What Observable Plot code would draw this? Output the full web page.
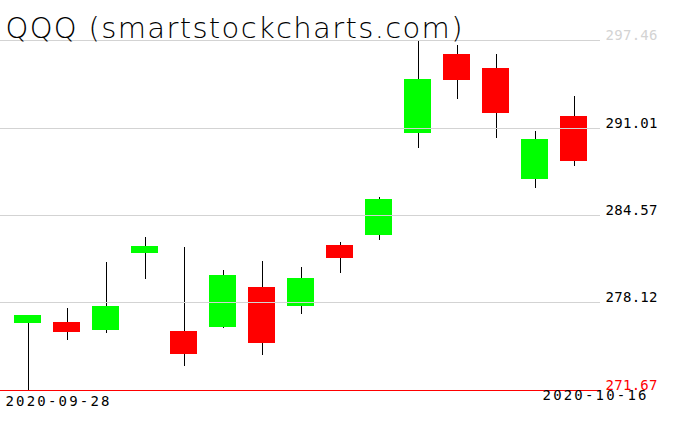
<!DOCTYPE html>
<html>
<head>
<meta charset="utf-8">
<script src="https://cdn.jsdelivr.net/npm/d3@7"></script>
<script src="https://cdn.jsdelivr.net/npm/@observablehq/plot@0.6"></script>
<style>
  html, body { margin: 0; padding: 0; background: #fff; }
  #chart svg { display: block; }
</style>
</head>
<body>
<div id="chart"></div>
<script>
const title = "QQQ (smartstockcharts.com)";
const dates = ["2020-09-28","2020-09-29","2020-09-30","2020-10-01","2020-10-02","2020-10-05","2020-10-06","2020-10-07","2020-10-08","2020-10-09","2020-10-12","2020-10-13","2020-10-14","2020-10-15","2020-10-16"];
const open  = [276.58, 276.71, 276.07, 281.75, 276.04, 276.29, 279.29, 277.84, 282.39, 283.07, 290.60, 296.40, 295.37, 287.21, 291.83];
const high  = [277.23, 277.74, 281.13, 282.91, 282.24, 280.54, 281.21, 280.77, 282.56, 285.86, 297.46, 297.07, 296.40, 290.72, 293.31];
const low   = [271.67, 275.33, 275.85, 279.83, 273.41, 276.21, 274.22, 277.25, 280.27, 282.71, 289.52, 293.11, 290.23, 286.54, 288.19];
const close = [277.23, 275.92, 277.89, 282.31, 274.30, 280.18, 275.11, 279.95, 281.36, 285.78, 294.56, 294.51, 292.07, 290.13, 288.53];
const yTicks = [271.67, 278.12, 284.57, 291.01, 297.46];

const data = dates.map((d, i) => ({date: d, open: open[i], high: high[i], low: low[i], close: close[i]}));
const tickData = yTicks.map((v, i) => ({v, i}));
const last = yTicks.length - 1;
const tickColor = d => d.i === 0 ? "#ff0000" : d.i === last ? "#d3d3d3" : "#000000";
const gridColor = d => d.i === 0 ? "#ff0000" : "#d3d3d3";

const chart = Plot.plot({
  width: 676,
  height: 431,
  marginLeft: 0,
  marginRight: 76,
  marginTop: 40,
  marginBottom: 41,
  style: {background: "#ffffff", fontFamily: "DejaVu Sans Mono"},
  x: {type: "band", domain: dates, range: [13, 588], paddingInner: 0.31, paddingOuter: 0, axis: null},
  y: {domain: [yTicks[0], yTicks[last]], axis: null},
  marks: [
    Plot.ruleX(data, {x: "date", y1: "low", y2: "high", stroke: "#000000", strokeWidth: 1, shapeRendering: "crispEdges"}),
    Plot.barY(data, {x: "date", y1: "open", y2: "close", fill: d => d.close >= d.open ? "#00ff00" : "#ff0000", shapeRendering: "crispEdges"}),
    Plot.ruleY(tickData, {y: "v", stroke: gridColor, strokeWidth: 1, shapeRendering: "crispEdges"}),
    Plot.text(tickData, {y: "v", text: d => d.v.toFixed(2), frameAnchor: "right", textAnchor: "start", dx: 5, dy: -5, fill: tickColor, fontSize: 14, fontFamily: "DejaVu Sans Mono", className: "ticklabel"}),
    Plot.text([dates[0]], {text: d => d, frameAnchor: "bottom-left", textAnchor: "start", dx: 5, dy: 15, fill: "#000000", fontSize: 14, fontFamily: "DejaVu Sans Mono", className: "datelabel"}),
    Plot.text([dates[dates.length - 1]], {text: d => d, frameAnchor: "bottom-right", textAnchor: "end", dx: 46, dy: 9, fill: "#000000", fontSize: 14, fontFamily: "DejaVu Sans Mono", className: "datelabel"}),
    Plot.text([title], {text: d => d, frameAnchor: "top-left", textAnchor: "start", dx: 5, dy: -23, fill: "#000000", fontSize: 29, fontWeight: 200, fontFamily: "DejaVu Sans", className: "titletext"})
  ]
});
document.getElementById("chart").appendChild(chart);

// fit text lengths to the reference
function fit(sel, len) {
  chart.querySelectorAll(sel + " text").forEach(t => {
    t.setAttribute("textLength", len);
    t.setAttribute("lengthAdjust", "spacing");
  });
}
fit(".titletext", 457);
fit(".datelabel", 104);
fit(".ticklabel", 52);
</script>
</body>
</html>
